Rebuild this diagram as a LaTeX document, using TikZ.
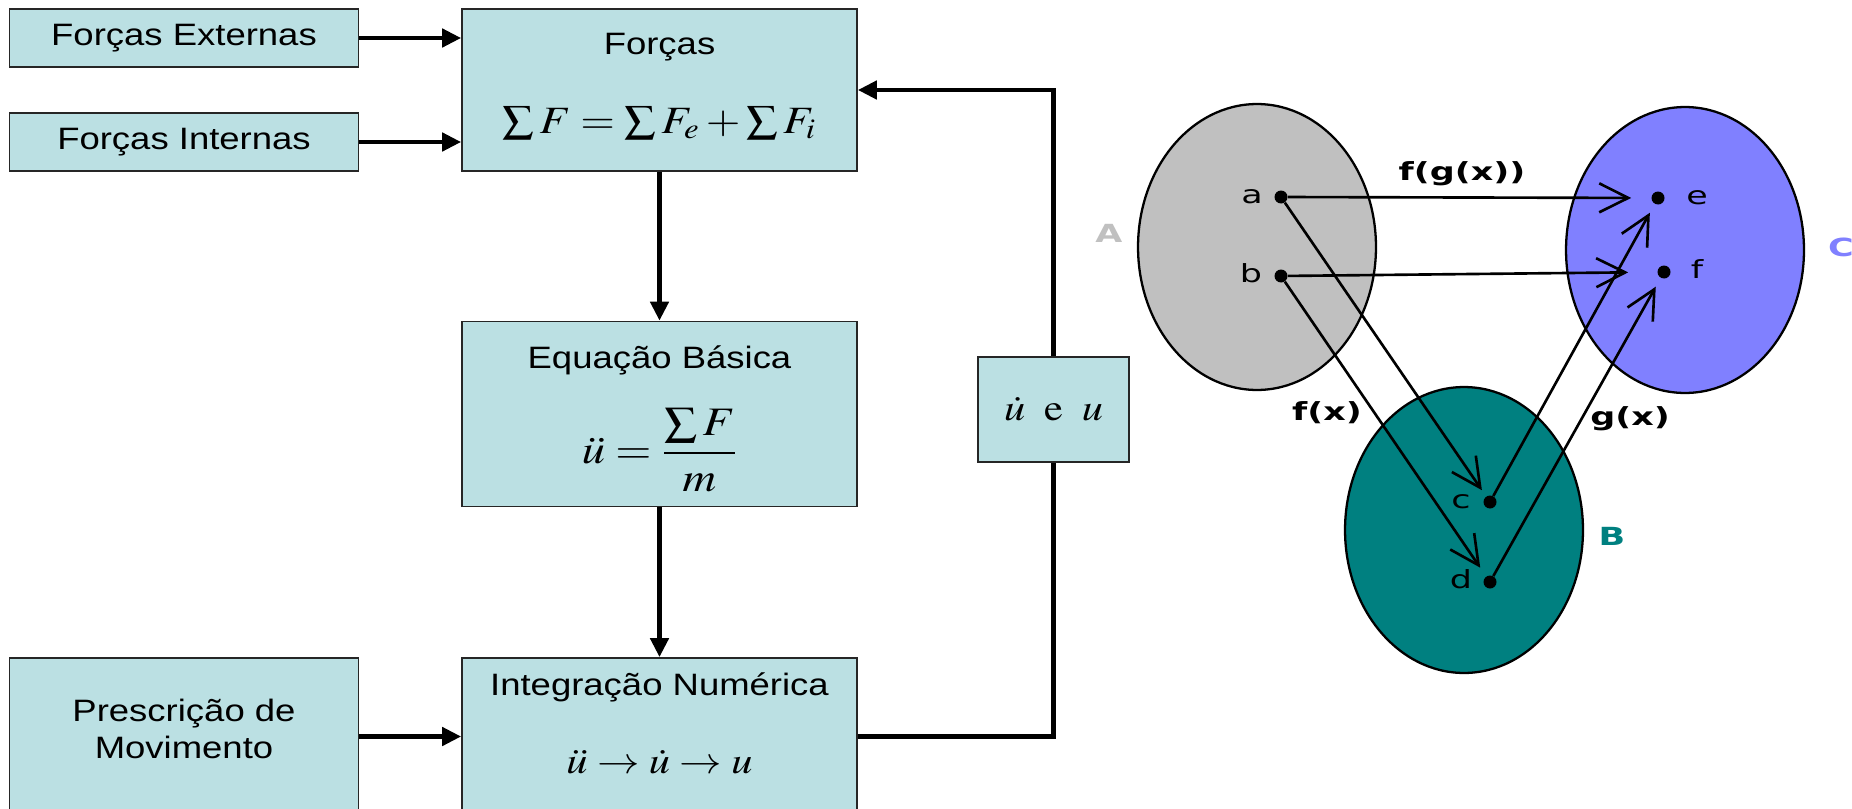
\documentclass[tikz,border=0pt]{standalone}
\usepackage{amsmath}
\usepackage{mathptmx}
\usepackage[no-math]{fontspec}
\setmainfont{Liberation Sans}[FakeStretch=1.18]
\newfontfamily\setsfont{DejaVu Sans}[FakeStretch=1.4]
\usetikzlibrary{arrows.meta,positioning,calc,shapes.geometric}
\definecolor{boxfill}{RGB}{187,224,227}
\definecolor{setgray}{RGB}{192,192,192}
\definecolor{setteal}{RGB}{0,128,128}
\definecolor{setblue}{RGB}{128,128,255}
\newcommand{\mth}[1]{\scalebox{1.15}[1]{$#1$}}
\tikzset{
  blk/.style={draw=black!85, line width=1pt, fill=boxfill, inner sep=0pt,
    font=\fontsize{17.6}{21.5}\selectfont, align=center},
  ttl/.style={anchor=base, font=\fontsize{17.6}{21.5}\selectfont, align=center},
  flw/.style={line width=2.6pt},
  farr/.style={flw, -{Triangle[length=0.38cm, width=0.36cm]}},
  sete/.style={ellipse, draw=black, line width=1.3pt, minimum width=4.76cm, minimum height=5.72cm},
  elt/.style={circle, fill=black, inner sep=0pt, minimum size=0.26cm},
  elab/.style={anchor=base, font=\setsfont\fontsize{14.2}{17}\selectfont},
  flab/.style={font=\setsfont\bfseries\fontsize{14.2}{17}\selectfont},
  maparr/.style={line width=1.5pt, -{Straight Barb[length=0.58cm, width=0.58cm]}},
}

\begin{document}
\begin{tikzpicture}[x=0.02cm, y=-0.02cm]
\useasboundingbox (0,0) rectangle (1852,808);
% block diagram
\node[blk, minimum width=6.98cm, minimum height=1.16cm] (ext) at (184,38) {Forças Externas};
\node[blk, minimum width=6.98cm, minimum height=1.16cm] (int) at (184,142) {Forças Internas};
\node[blk, minimum width=7.9cm, minimum height=3.24cm] (forcas) at (659.5,90) {};
\node[blk, minimum width=7.9cm, minimum height=3.7cm] (eq) at (659.5,414) {};
\node[blk, minimum width=7.9cm, minimum height=3.14cm] (integ) at (659.5,736.5) {};
\node[blk, minimum width=6.98cm, minimum height=3.14cm] (presc) at (184,736.5) {};
\node[blk, minimum width=3.02cm, minimum height=2.1cm, font=\fontsize{21}{25}\selectfont] (ueu) at (1053.5,409.5)
  {\mth{\dot{u}\;\;\mathrm{e}\;\;u}};

\node[ttl] (forcasttl) at (659.5,54) {Forças};
\node[anchor=base, font=\fontsize{22}{26}\selectfont] (forcasf) at (659.5,133)
  {\mth{\sum F=\sum F_e+\sum F_i}};
\node[ttl] (eqttl) at (659.5,368) {Equação Básica};
\node[font=\fontsize{23}{27}\selectfont] (eqf) at (659.5,450)
  {\mth{\displaystyle\ddot{u}=\frac{\sum F}{m}}};
\node[ttl] (integttl) at (659.5,695) {Integração Numérica};
\node[anchor=base, font=\fontsize{21}{25}\selectfont] (integf) at (659.5,773)
  {\mth{\ddot{u}\rightarrow\dot{u}\rightarrow u}};
\node[ttl, anchor=center] (presctxt) at (184,729) {Prescrição de\\Movimento};

\draw[farr] (ext.east) -- (ext.east -| forcas.west);
\draw[farr] (int.east) -- (int.east -| forcas.west);
\draw[farr] (presc.east) -- (integ.west);
\draw[farr] (forcas.south) -- (eq.north);
\draw[farr] (eq.south) -- (integ.north);
\draw[flw] (integ.east) -| (ueu.south);
\draw[farr] (ueu.north) |- (forcas.east);

% sets and maps
\node[sete, fill=setgray] (setA) at (1257,247) {};
\node[sete, fill=setblue] (setC) at (1685,250) {};
\node[sete, fill=setteal] (setB) at (1464,530) {};
\node[flab, text=setgray] (labA) at (1109,233) {A};
\node[flab, text=setblue] (labC) at (1841,247) {C};
\node[flab, text=setteal] (labB) at (1612,536) {B};

\node[elt] (a) at (1281,197) {};
\node[elt] (b) at (1281,276) {};
\node[elt] (e) at (1658,198) {};
\node[elt] (f) at (1664,272) {};
\node[elt] (c) at (1490,502) {};
\node[elt] (d) at (1490,582) {};
\node[elab] (laba) at (1252,203) {a};
\node[elab] (labb) at (1251,282) {b};
\node[elab] (labe) at (1697,204) {e};
\node[elab] (labf) at (1697,278) {f};
\node[elab] (labc) at (1461,508) {c};
\node[elab] (labd) at (1461,588) {d};

\draw[maparr, shorten >=0.4cm] (a) -- (e);
\draw[maparr, shorten >=0.58cm] (b) -- (f);
\draw[maparr, shorten >=0.15cm] (a) -- (c);
\draw[maparr, shorten >=0.21cm] (b) -- (d);
\draw[maparr, shorten >=0.2cm] (c) -- (e);
\draw[maparr, shorten >=0.2cm] (d) -- (f);

\node[flab] (fgx) at (1462,174) {f(g(x))};
\node[flab] (fx) at (1327,413) {f(x)};
\node[flab] (gx) at (1630,419) {g(x)};
\end{tikzpicture}
\end{document}
